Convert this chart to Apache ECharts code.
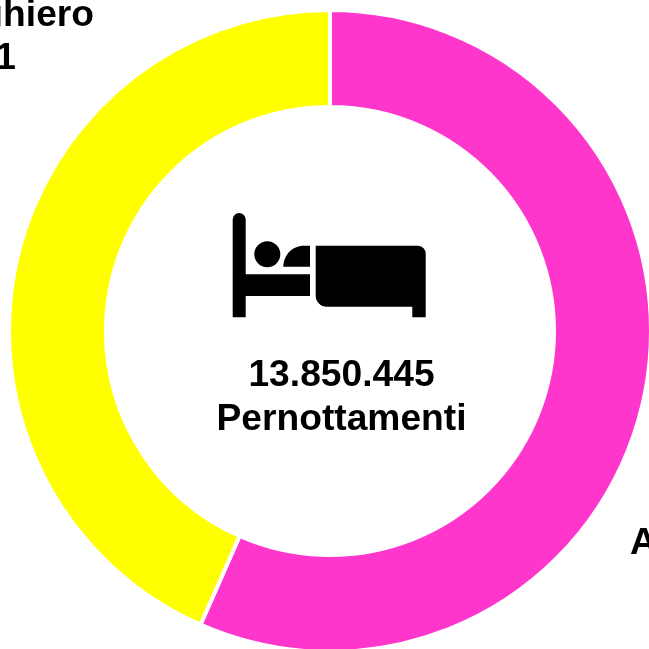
<!DOCTYPE html>
<html>
<head>
<meta charset="utf-8">
<style>html,body{margin:0;padding:0;background:#fff}#c{width:649px;height:649px}</style>
<script src="https://cdn.jsdelivr.net/npm/echarts@6/dist/echarts.min.js"></script>
</head>
<body>
<div id="c"></div>
<script>
const categories = ['Alberghiero', 'Extralberghiero'];
const values = [7841004, 6009441];
const colors = ['#FF36CC', '#FFFF00'];
const totalLabel = '13.850.445';
const unitLabel = 'Pernottamenti';
const FONT = '"Liberation Sans", Helvetica, Arial, sans-serif';
const SIZE = 37.2;

const fmt = v => String(v).replace(/\B(?=(\d{3})+$)/g, '.');

const bedPath =
  'M232.7 219.5 A6.5 6.5 0 0 1 245.7 219.5 L245.7 274.3 L310 274.3 L310 296 L245.7 296 L245.7 317.3 L232.7 317.3 Z ' +
  'M280.3 254.3 A13 13 0 1 1 254.3 254.3 A13 13 0 1 1 280.3 254.3 Z ' +
  'M283.3 266.7 C283.8 255 292 245.7 304 245.7 L310 245.7 L310 266.7 Z ' +
  'M315.7 245.7 L417.7 245.7 A8 8 0 0 1 425.7 253.7 L425.7 317.3 L412.3 317.3 L412.3 306.7 L326.7 306.7 A11 11 0 0 1 315.7 295.7 Z';
echarts.graphic.registerShape('bedIcon', echarts.graphic.extendPath(bedPath, {}));

const chart = echarts.init(document.getElementById('c'), null, {renderer: 'canvas'});
const textStyle = {fontFamily: FONT, fontSize: SIZE, fontWeight: 'bold', color: '#000', lineHeight: 43};
chart.setOption({
  animation: false,
  backgroundColor: '#fff',
  title: {
    text: totalLabel + '\n' + unitLabel,
    left: 341.5,
    top: 353.5,
    textAlign: 'center',
    padding: 0,
    textStyle: Object.assign({}, textStyle, {lineHeight: 44})
  },
  graphic: [{
    type: 'bedIcon',
    silent: true,
    style: {fill: '#000'}
  }],
  series: [{
    type: 'pie',
    center: [330, 331],
    radius: [224, 321],
    startAngle: 90,
    clockwise: true,
    avoidLabelOverlap: false,
    silent: true,
    itemStyle: {borderColor: '#fff', borderWidth: 4},
    labelLine: {show: false},
    label: Object.assign({show: true, position: 'outside'}, textStyle),
    labelLayout: function (p) {
      return p.dataIndex === 0
        ? {x: 630, y: 565, align: 'left', verticalAlign: 'middle', hideOverlap: false}
        : {x: 94, y: 37, align: 'right', verticalAlign: 'middle', hideOverlap: false};
    },
    data: categories.map((name, i) => ({
      name,
      value: values[i],
      itemStyle: {color: colors[i]},
      label: {
        formatter: '{n|' + name + '}\n{' + (i === 0 ? 'off' : 'v') + '|' + fmt(values[i]) + '}',
        rich: {
          n: textStyle,
          v: Object.assign({}, textStyle, {padding: [0, 78, 0, 0]}),
          off: Object.assign({}, textStyle, {padding: [0, 0, 0, 100]})
        }
      }
    }))
  }]
});
</script>
</body>
</html>
